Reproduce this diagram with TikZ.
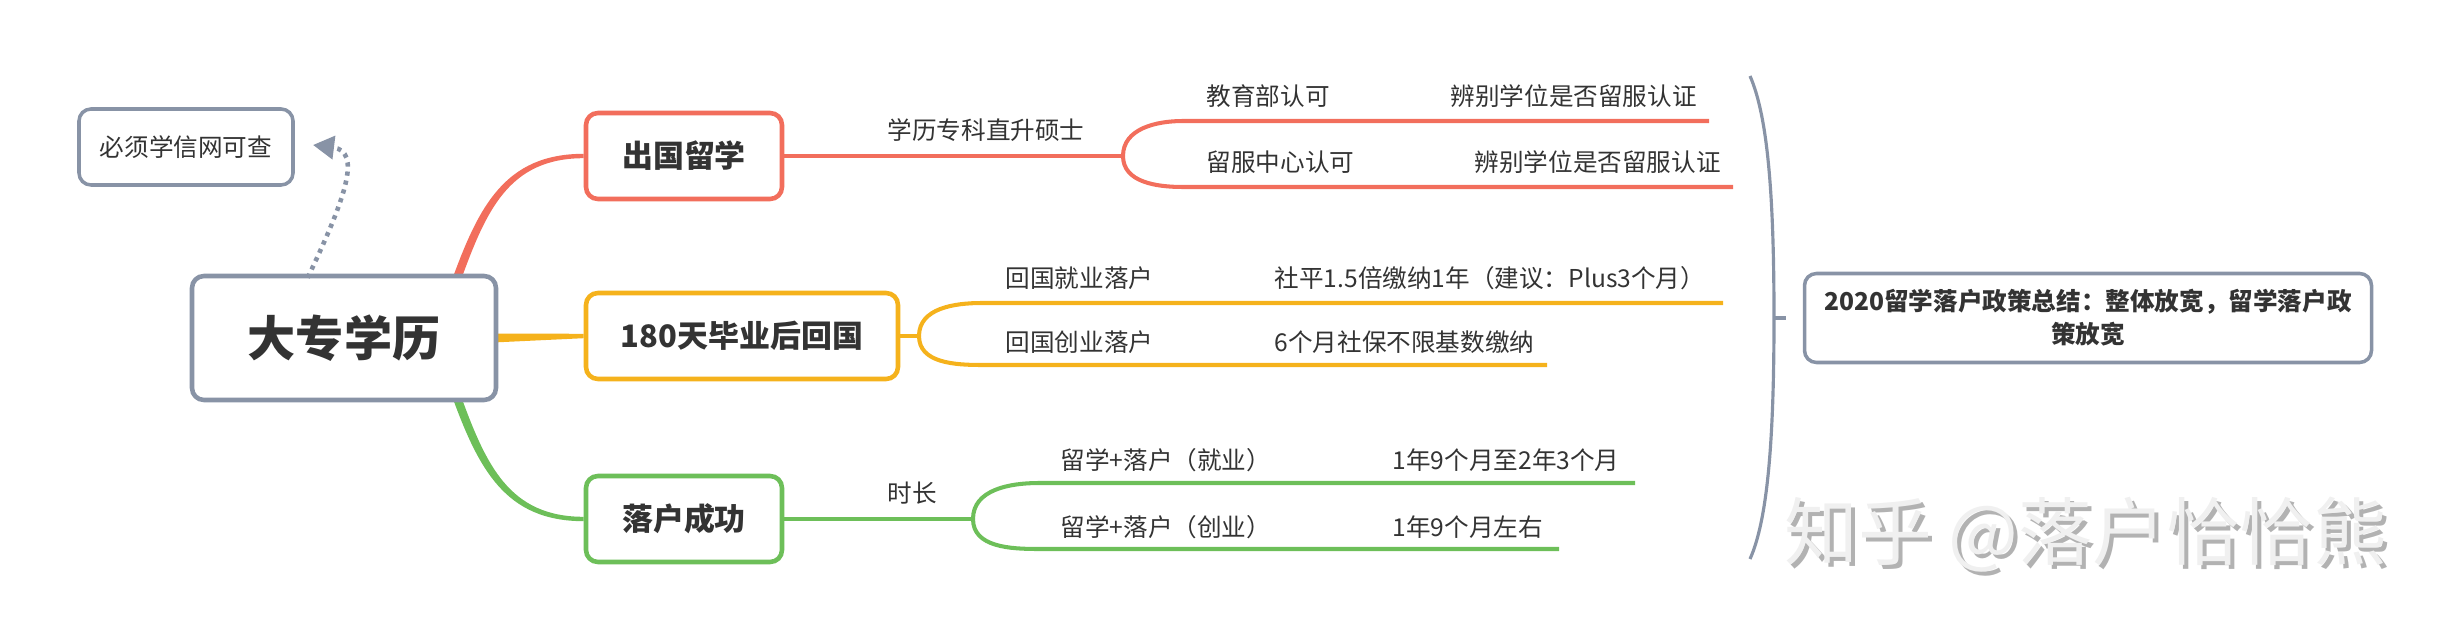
\documentclass[tikz,border=0pt]{standalone}
\usepackage{fontspec}
\setmainfont{Noto Sans CJK SC}
\usetikzlibrary{calc,arrows.meta,positioning,backgrounds}
\definecolor{MRed}{HTML}{F26E5C}
\definecolor{MOrange}{HTML}{F5B21C}
\definecolor{MGreen}{HTML}{6DBF59}
\definecolor{MGray}{HTML}{8893A6}
\definecolor{MText}{HTML}{333333}
\tikzset{
    topic/.style = {draw, rectangle, rounded corners=3.4pt,
        line width=1.3pt, fill=white, text=MText,
        font=\fontsize{8.8pt}{10pt}\selectfont\bfseries,
        minimum height=8.6mm,
        minimum width=19.6mm},
    root/.style = {topic, draw=MGray,
        font=\fontsize{13.7pt}{16pt}\selectfont\bfseries,
        minimum height=12.4mm,
        minimum width=30.4mm},
    note/.style = {topic, draw=MGray, line width=1pt,
        font=\fontsize{7pt}{8.4pt}\selectfont},
    leaf/.style = {anchor=west, inner sep=0pt, text=MText,
        font=\fontsize{7pt}{8.4pt}\selectfont},
    twig/.style = {line width=1.15pt},
    notelink/.style = {draw=MGray, line width=1.3pt,
        dash pattern=on 1.2pt off 1.4pt,
        -{Triangle[length=6pt,width=6.5pt,fill=MGray]}}
}
\begin{document}
\begin{tikzpicture}[x=0.1mm,y=0.1mm]
    \useasboundingbox (0,0) rectangle (2448,637);
    % main topics
    \node[root] (big) at (344,299) {大专学历};
    \node[note, minimum width=21.4mm, minimum height=7.6mm] (check) at (186,490) {必须学信网可查};
    \node[topic, draw=MRed] (abroad) at (684,481) {出国留学};
    \node[topic, draw=MOrange, minimum width=31.2mm] (back) at (742,301) {180天毕业后回国};
    \node[topic, draw=MGreen] (settle) at (684,118) {落户成功};
    \node[note, font=\fontsize{7pt}{9.4pt}\selectfont\bfseries, align=center,
        minimum width=56.7mm, minimum height=8.9mm] (summary) at (2088,319)
        {2020留学落户政策总结：整体放宽，留学落户政\\策放宽};
    % trunks
    \begin{scope}[on background layer]
        \fill[MRed] ($(big.north east)+(-47,-8)$) to[out=70,in=180,looseness=1.1] ($(abroad.west)+(0,2.2)$)
            -- ($(abroad.west)+(0,-2.2)$) to[out=180,in=70,looseness=1.1] ($(big.north east)+(-38,-8)$) -- cycle;
        \fill[MOrange] ($(big.east)+(-5,4.5)$) -- ($(back.west)+(0,2.2)$)
            -- ($(back.west)+(0,-2.2)$) -- ($(big.east)+(-5,-4.5)$) -- cycle;
        \fill[MGreen] ($(big.south east)+(-47,8)$) to[out=-70,in=180,looseness=1.1] ($(settle.west)+(0,-2.2)$)
            -- ($(settle.west)+(0,2.2)$) to[out=180,in=-70,looseness=1.1] ($(big.south east)+(-38,8)$) -- cycle;
    \end{scope}
    % 出国留学
    \coordinate (abroadfork) at (1123,481);
    \draw[twig, MRed] (abroad.east) -- (abroadfork);
    \draw[twig, MRed] (abroadfork) to[out=90,in=180] (1183,516) -- (1709,516);
    \draw[twig, MRed] (abroadfork) to[out=-90,in=180] (1183,450) -- (1733,450);
    \node[leaf] (degree) at (887,507) {学历专科直升硕士};
    \node[leaf] (moe) at (1206,541) {教育部认可};
    \node[leaf] (moecheck) at (1450,541) {辨别学位是否留服认证};
    \node[leaf] (cscse) at (1206,475) {留服中心认可};
    \node[leaf] (cscsecheck) at (1474,475) {辨别学位是否留服认证};
    % 180天毕业后回国
    \coordinate (backfork) at (919,301);
    \draw[twig, MOrange] (back.east) -- (backfork);
    \draw[twig, MOrange] (backfork) to[out=90,in=180] (982,334) -- (1723,334);
    \draw[twig, MOrange] (backfork) to[out=-90,in=180] (982,272) -- (1547,272);
    \node[leaf] (job) at (1005,359) {回国就业落户};
    \node[leaf] (jobrule) at (1274,359) {社平1.5倍缴纳1年（建议：Plus3个月）};
    \node[leaf] (startup) at (1005,295) {回国创业落户};
    \node[leaf] (startuprule) at (1274,295) {6个月社保不限基数缴纳};
    % 落户成功
    \coordinate (settlefork) at (973,118);
    \draw[twig, MGreen] (settle.east) -- (settlefork);
    \draw[twig, MGreen] (settlefork) to[out=90,in=180] (1039,154) -- (1635,154);
    \draw[twig, MGreen] (settlefork) to[out=-90,in=180] (1039,88) -- (1559,88);
    \node[leaf] (span) at (887,144) {时长};
    \node[leaf] (spanjob) at (1060,177) {留学+落户（就业）};
    \node[leaf] (spanjobtime) at (1392,177) {1年9个月至2年3个月};
    \node[leaf] (spanstart) at (1060,110) {留学+落户（创业）};
    \node[leaf] (spanstarttime) at (1392,110) {1年9个月左右};
    % note link
    \coordinate (checktip) at (313,492);
    \draw[notelink] ($(big.north west)+(118,-4)$) .. controls (346,440) and (362,486) .. (checktip);
    % summary brace
    \coordinate (brace) at (1774,319);
    \draw[MGray, line width=0.9pt] (1750,561) .. controls (1768,520) and (1774,440) .. (brace)
        .. controls (1774,200) and (1768,118) .. (1750,78);
    \draw[MGray, line width=0.9pt] (brace) -- ++(12,0);
    % watermark
    \node[text=gray!60, font=\fontsize{21pt}{24pt}\selectfont] (zhihushadow) at (2090,98) {知乎 @落户恰恰熊};
    \node[text=gray!12, font=\fontsize{21pt}{24pt}\selectfont] (zhihu) at (2086,102) {知乎 @落户恰恰熊};
\end{tikzpicture}
\end{document}
